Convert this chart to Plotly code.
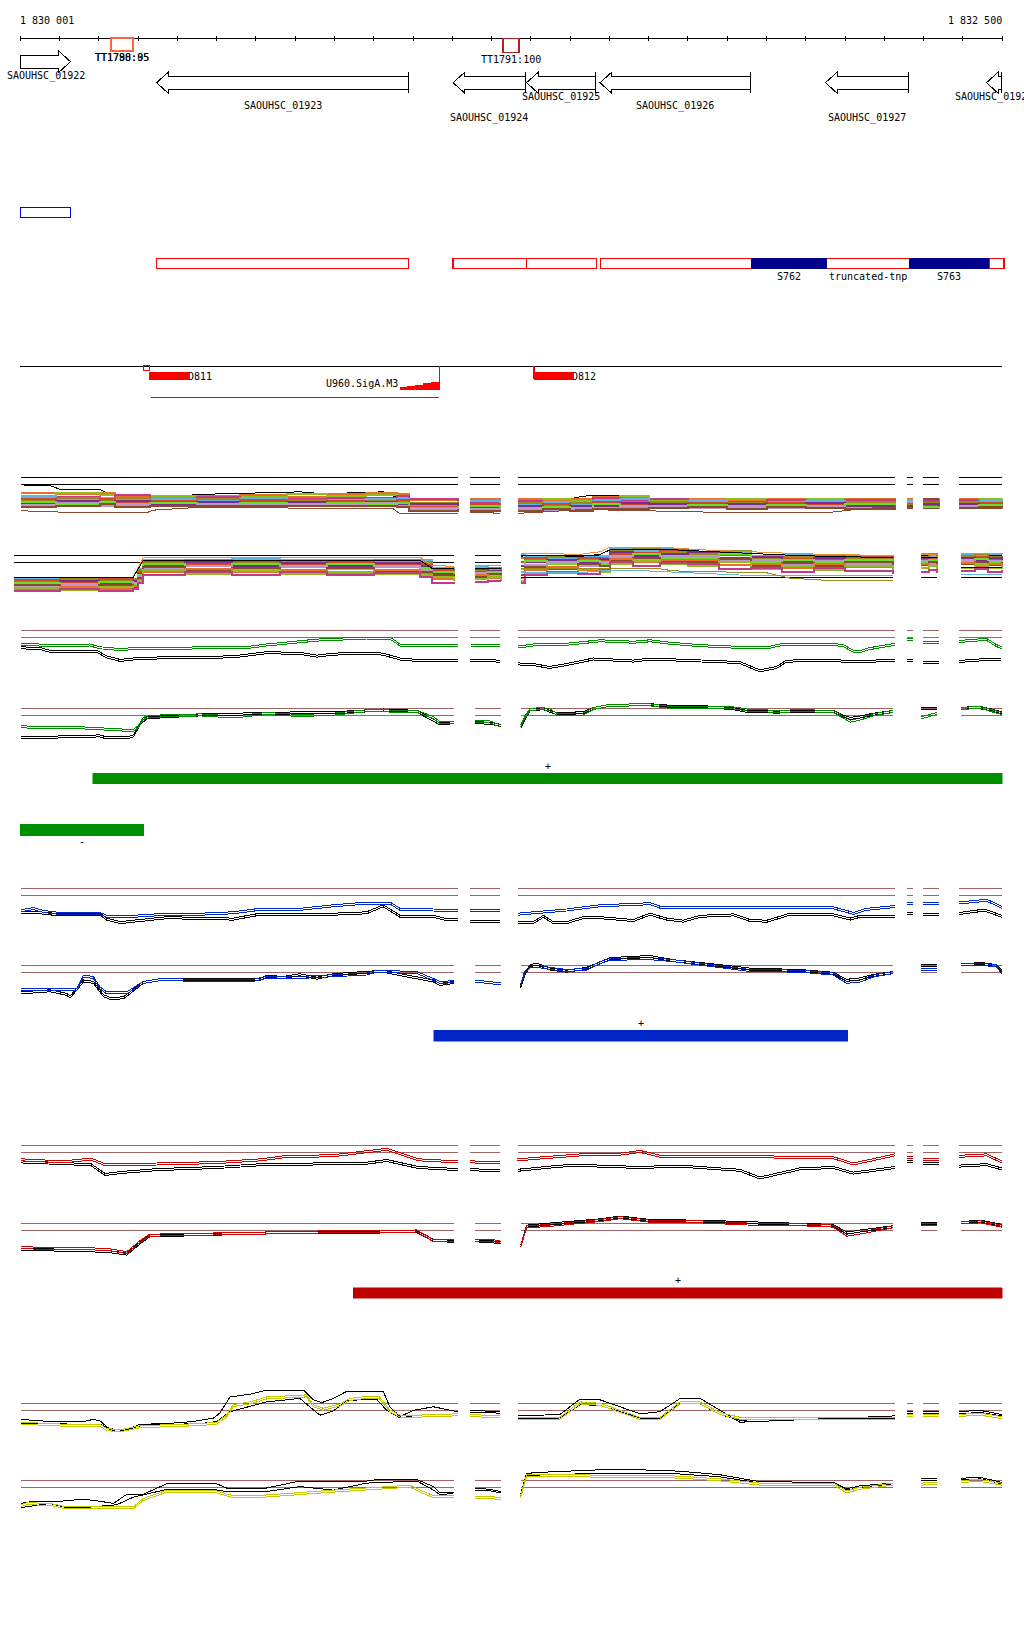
import plotly.graph_objects as go

W, H = 1024, 1640
POS0 = 1830000                      # genomic origin (bp)
BP_PER_PX = 1 / 0.39275
X_LEFT = POS0 - 20.3 * BP_PER_PX
X_RIGHT = X_LEFT + W * BP_PER_PX

# ------------------------------------------------------------------ data
RULER_LABELS = ["1 830 001", "1 832 500"]
RULER_FROM, RULER_TO = 1, 2500

GENE_NAMES = ["SAOUHSC_01922", "SAOUHSC_01923", "SAOUHSC_01924", "SAOUHSC_01925",
              "SAOUHSC_01926", "SAOUHSC_01927", "SAOUHSC_01928"]
GENE_START = [1, 347, 1102, 1289, 1476, 2050, 2460]
GENE_END = [128, 989, 1287, 1465, 1860, 2262, 2499]
GENE_STRAND = ["+", "-", "-", "-", "-", "-", "-"]

TERM_NAMES = ["TT1790:95", "TT1788:05", "TT1791:100"]
TERM_START = [230, 230, 1229]
TERM_END = [288, 288, 1270]

BLUE_BOX = [(0, 128)]
RED_BOXES = [(347, 989), (1102, 1289), (1289, 1467), (1477, 1862), (2053, 2265), (2466, 2504)]
NAVY_NAMES = ["S762", "S763"]
NAVY_START = [1862, 2265]
NAVY_END = [2053, 2466]
TNP_NAME, TNP_START, TNP_END = "truncated-tnp", 2053, 2265

FEAT_NAMES = ["D811", "D812"]
FEAT_START = [330, 1308]
FEAT_END = [429, 1407]
PROMOTER_NAME, PROMOTER_START, PROMOTER_END = "U960.SigA.M3", 332, 1067
PROMOTER_RAMP = 967

GREEN_PLUS = (185, 2500)
GREEN_MINUS = (0, 314)
BLUE_PLUS = (1053, 2107)
RED_PLUS = (848, 2500)

SEG_A = [(1, 1114), (1145, 1221), (1266, 2227), (2257, 2273), (2298, 2338), (2390, 2499)]
SEG_B = [(1, 1104), (1157, 1223), (1274, 2222), (2294, 2334), (2395, 2499)]
SEG_MB = [(-15, 1104), (1157, 1223), (1274, 2222), (2294, 2334), (2395, 2499)]

# ---- multi-condition panel A
MA_X = [[1, 90, 203, 240, 330, 450, 560, 680, 780, 880, 960, 990, 1114], [1145, 1221],
        [1266, 1330, 1400, 1459, 1527, 1600, 1700, 1800, 1900, 2000, 2100, 2227],
        [2257, 2273], [2298, 2338], [2390, 2440, 2499]]
MA_TOP_X = [[1, 76, 101, 203, 228, 416, 458, 585, 712, 772, 924, 967, 1114], [1145, 1221],
            [1266, 1391, 1425, 1459, 1527, 1578, 2227], [2257, 2273], [2298, 2338], [2390, 2499]]
MA_TOP_V = [[-1.1, -1.2, -1.8, -1.8, -2.7, -2.8, -2.6, -2.4, -2.2, -2.5, -2.2, -3.3, -3.2], [-3.4, -3.4],
            [-3.4, -3.4, -3.0, -2.7, -2.8, -3.3, -3.3], [-3.3, -3.3], [-3.3, -3.3], [-3.3, -3.3]]
MA_BOT_X = [[1, 93, 144, 322, 339, 458, 797, 950, 967, 1114], [1145, 1221],
            [1266, 1306, 1434, 1519, 1816, 2070, 2155, 2227], [2257, 2273], [2298, 2338], [2390, 2499]]
MA_BOT_V = [[-5.2, -5.4, -5.5, -5.5, -5.1, -4.65, -4.8, -4.9, -5.7, -5.7], [-5.4, -5.6],
            [-5.6, -5.5, -5.0, -5.1, -5.5, -5.4, -4.8, -4.6], [-4.6, -4.6], [-4.9, -4.9], [-4.8, -4.9]]
MA_BAND = [
    [[-2.4, -2.6, -2.4, -2.9, -3.1, -2.8, -2.7, -3.0, -2.6, -2.4, -2.6, -3.5, -3.4], [-3.4, -3.5],
     [-3.4, -3.6, -3.3, -3.0, -3.1, -3.4, -3.3, -3.6, -3.3, -3.5, -3.3, -3.4], [-3.3, -3.3], [-3.4, -3.6], [-3.3, -3.5, -3.4]],
    [[-2.8, -2.4, -2.7, -3.3, -2.8, -3.2, -3.0, -2.6, -2.9, -2.7, -3.0, -3.9, -3.7], [-3.8, -3.6],
     [-3.8, -3.4, -3.7, -3.4, -2.9, -3.7, -3.5, -3.3, -3.7, -3.3, -3.6, -3.6], [-3.6, -3.6], [-3.8, -3.4], [-3.7, -3.3, -3.7]],
    [[-3.2, -3.0, -3.3, -2.7, -3.5, -3.0, -3.4, -3.3, -3.2, -3.1, -2.8, -3.3, -4.1], [-4.0, -4.2],
     [-3.6, -4.0, -3.9, -3.2, -3.5, -3.3, -3.9, -3.8, -3.5, -3.8, -3.5, -3.9], [-3.9, -3.9], [-3.6, -4.0], [-3.5, -3.9, -3.6]],
    [[-3.0, -3.4, -3.1, -3.6, -3.3, -3.6, -3.2, -3.7, -3.5, -3.4, -3.4, -4.3, -3.6], [-3.6, -3.9],
     [-4.2, -3.8, -4.2, -3.7, -3.3, -4.0, -3.7, -4.1, -3.9, -3.6, -4.0, -3.7], [-3.5, -3.5], [-4.1, -3.8], [-4.0, -3.7, -4.0]],
    [[-3.6, -3.2, -3.6, -3.2, -3.8, -3.4, -3.8, -3.5, -3.9, -3.6, -3.7, -4.0, -4.4], [-4.4, -4.1],
     [-4.0, -4.4, -4.0, -4.0, -3.8, -3.8, -4.2, -3.9, -4.2, -4.1, -3.8, -4.2], [-4.2, -4.2], [-3.9, -4.3], [-3.8, -4.2, -3.9]],
    [[-3.4, -3.8, -3.4, -3.9, -3.6, -4.0, -3.6, -4.0, -3.7, -3.9, -3.5, -4.6, -4.0], [-4.1, -4.5],
     [-4.6, -4.2, -4.6, -3.8, -4.2, -4.3, -4.0, -4.4, -4.0, -4.3, -4.3, -4.0], [-4.0, -4.0], [-4.4, -4.1], [-4.3, -4.0, -4.3]],
    [[-4.0, -3.6, -4.0, -3.7, -4.2, -3.8, -4.1, -3.8, -4.1, -3.8, -4.1, -4.2, -4.8], [-4.7, -4.3],
     [-4.4, -4.8, -4.4, -4.4, -4.0, -4.1, -4.5, -4.2, -4.5, -4.0, -4.5, -4.5], [-4.4, -4.4], [-4.2, -4.5], [-4.1, -4.5, -4.2]],
    [[-3.8, -4.2, -3.8, -4.3, -3.9, -4.3, -3.9, -4.3, -3.9, -4.2, -3.9, -4.8, -4.5], [-4.5, -4.8],
     [-5.0, -4.6, -4.8, -4.2, -4.6, -4.6, -4.3, -4.7, -4.3, -4.6, -4.1, -4.3], [-4.6, -4.6], [-4.6, -4.4], [-4.6, -4.3, -4.6]],
    [[-4.3, -4.0, -4.4, -4.1, -4.5, -4.1, -4.3, -4.1, -4.3, -4.0, -4.4, -5.0, -5.1], [-5.0, -4.7],
     [-4.8, -5.1, -5.0, -4.7, -4.4, -4.4, -4.8, -4.5, -4.8, -4.4, -4.7, -4.7], [-3.8, -3.8], [-4.8, -4.7], [-4.4, -4.7, -4.5]],
    [[-4.6, -4.5, -4.2, -4.6, -4.4, -4.5, -4.5, -4.4, -4.5, -4.4, -4.6, -5.2, -4.9], [-5.2, -5.1],
     [-5.2, -4.9, -5.2, -4.9, -4.9, -4.8, -4.6, -4.9, -4.6, -4.8, -4.9, -4.5], [-4.7, -4.7], [-3.3, -3.3], [-4.8, -4.6, -4.8]],
]

# ---- multi-condition panel B
MB_X = [[-15, 100, 200, 287, 300, 313, 420, 540, 660, 780, 900, 1018, 1048, 1104], [1157, 1190, 1223],
        [1274, 1284, 1340, 1420, 1476, 1502, 1560, 1629, 1700, 1780, 1860, 1940, 2020, 2100, 2222],
        [2294, 2314, 2334], [2395, 2430, 2465, 2499]]
MB_ENV_X = [[-15, 287, 313, 712, 1018, 1048, 1104], [1157, 1223],
            [1274, 1284, 1425, 1476, 1502, 1629, 1731, 1985, 2222], [2294, 2334], [2395, 2499]]
MB_TOP_V = [[-3.3, -3.3, -0.3, -0.2, -0.2, -1.5, -1.6], [-1.5, -1.5],
            [0.3, 0.4, 0.2, 0.6, 1.3, 1.3, 0.9, 0.3, 0.0], [0.2, 0.2], [0.3, 0.3]]
MB_BLK_V = [[-3.3, -3.3, -0.7, -0.7, -0.7, -1.9, -2.0], [-1.9, -1.9],
            [-0.2, 0.1, -0.1, 0.2, 0.9, 1.0, 0.7, 0.0, -0.3], [-0.3, -0.3], [-1.8, -1.8]]
MB_FLAT_X = [[1274, 2222], [2294, 2334], [2395, 2499]]
MB_FLAT_V = [[-3.3, -3.3], [-3.3, -3.3], [-3.3, -3.3]]
MB_LOW_X = [[1274, 1629, 1663, 1901, 1960, 2070, 2222]]
MB_LOW_V = [[-2.0, -2.0, -2.3, -2.6, -3.4, -3.8, -3.7]]
MB_SKY_X = [[1274, 1420, 1476, 1560, 1629, 1700, 1780, 1860, 2222], [2395, 2499]]
MB_SKY_V = [[-2.6, -2.6, -2.3, -2.2, -2.4, -2.6, -2.8, -3.0, -3.0], [-2.9, -2.9]]
MB_BAND = [
    [[-3.5, -3.7, -3.4, -3.6, -2.0, -0.6, -0.8, -0.5, -0.7, -0.6, -0.9, -0.6, -1.9, -2.0], [-1.7, -2.0, -1.8],
     [0.3, -0.2, -0.4, -0.2, 0.0, 1.1, 0.7, 1.0, 0.6, 0.4, 0.0, 0.1, -0.2, 0.0, -0.1], [0.2, 0.0, 0.2], [0.3, 0.1, 0.3, 0.2]],
    [[-3.9, -3.5, -3.8, -3.5, -2.2, -1.0, -0.6, -1.0, -0.8, -1.1, -0.6, -0.9, -2.3, -2.2], [-2.1, -1.8, -2.2],
     [-0.4, -0.6, -0.2, -0.6, -0.4, 0.7, 1.0, 0.6, 0.3, 0.7, -0.3, -0.2, 0.1, -0.4, -0.3], [-0.2, 0.3, -0.3], [-0.1, 0.3, -0.2, 0.0]],
    [[-3.7, -4.1, -3.6, -4.0, -2.4, -0.8, -1.2, -0.8, -1.3, -0.9, -1.3, -1.2, -2.1, -2.6], [-2.4, -2.6, -2.0],
     [-1.0, -0.4, -0.9, -0.4, -0.8, 0.3, 0.4, 0.8, 0.0, 0.1, -0.6, -0.5, -0.5, -0.2, -0.6], [-0.6, -0.4, -0.7], [-0.5, -0.2, -0.6, -0.3]],
    [[-4.3, -3.9, -4.2, -3.8, -2.7, -1.4, -1.0, -1.5, -1.1, -1.5, -1.1, -1.5, -2.7, -2.4], [-2.0, -2.3, -2.6],
     [-1.5, -1.0, -0.6, -1.1, -0.5, 0.5, 0.0, 0.2, 0.5, -0.3, -0.2, -0.9, -0.3, -0.8, -0.9], [-0.4, -0.8, -0.5], [-0.3, -0.7, -0.4, -0.7]],
    [[-4.1, -4.5, -4.0, -4.4, -2.9, -1.2, -1.6, -1.3, -1.7, -1.3, -1.7, -1.8, -2.5, -3.0], [-2.8, -2.5, -2.9],
     [-2.0, -0.8, -1.3, -0.8, -1.2, -0.2, 0.2, -0.3, -0.4, 0.2, -1.0, -0.6, -1.0, -0.6, -1.2], [-1.0, -0.7, -1.1], [-0.9, -0.5, -1.0, -0.6]],
    [[-4.7, -4.3, -4.6, -4.2, -3.2, -1.9, -1.5, -2.0, -1.6, -2.0, -1.6, -2.1, -3.1, -2.8], [-2.6, -3.0, -2.5],
     [-2.5, -1.4, -1.0, -1.5, -1.0, 0.0, -0.5, -0.1, -0.1, -0.8, -0.7, -1.3, -0.8, -1.2, -1.5], [-0.8, -1.2, -0.9], [-0.7, -1.1, -0.8, -1.1]],
    [[-4.5, -4.9, -4.4, -4.8, -3.4, -1.7, -2.1, -1.8, -2.2, -1.8, -2.3, -2.4, -2.9, -3.4], [-3.2, -2.8, -3.2],
     [-3.0, -1.7, -2.0, -1.3, -1.6, -0.7, -0.3, -0.8, -0.9, -0.5, -1.5, -1.1, -1.5, -1.0, -1.8], [-1.4, -1.0, -1.5], [-1.3, -0.9, -1.4, -1.0]],
    [[-5.1, -4.7, -5.0, -4.6, -3.7, -2.4, -2.0, -2.5, -2.1, -2.6, -2.1, -2.7, -3.6, -3.2], [-3.0, -3.4, -3.0],
     [-3.4, -2.2, -1.7, -2.2, -2.0, -0.5, -1.0, -0.6, -0.6, -1.4, -1.2, -1.8, -1.3, -1.7, -2.1], [-1.2, -1.6, -1.3], [-1.1, -1.5, -1.2, -1.5]],
    [[-4.9, -5.2, -4.8, -5.1, -3.9, -2.2, -2.7, -2.3, -2.8, -2.4, -2.8, -3.0, -3.3, -3.9], [-3.6, -3.2, -3.7],
     [-3.8, -2.6, -2.6, -2.0, -2.5, -1.2, -0.8, -1.3, -1.5, -1.0, -2.0, -1.6, -2.2, -1.5, -2.4], [-1.9, -1.5, -2.0], [-1.8, -1.4, -1.9, -1.6]],
    [[-5.3, -5.1, -5.3, -5.0, -4.1, -3.0, -2.5, -2.9, -2.5, -3.0, -2.6, -3.3, -4.1, -4.3], [-4.0, -3.8, -3.9],
     [-4.2, -3.0, -2.4, -2.8, -2.2, -1.0, -1.5, -1.1, -1.2, -2.0, -1.8, -2.4, -1.9, -2.3, -2.7], [-2.4, -2.2, -2.6], [-2.3, -2.0, -2.4, -2.2]],
]

# ---- green condition
GA_GREEN_X = [[1, 93, 177, 203, 245, 372, 458, 585, 627, 712, 755, 882, 941, 967, 1114], [1145, 1221],
              [1266, 1289, 1306, 1391, 1476, 1561, 1603, 1646, 1731, 1816, 1901, 1943, 2070, 2096, 2121, 2138, 2155, 2227],
              [2257, 2273], [2298, 2338], [2390, 2443, 2460, 2486, 2499]]
GA_GREEN_V = [[-1.9, -2.1, -2.0, -2.4, -2.6, -2.5, -2.4, -2.3, -2.0, -1.6, -1.3, -1.0, -1.0, -2.0, -2.0], [-2.0, -2.1],
              [-2.3, -2.1, -2.0, -1.9, -1.4, -1.6, -1.4, -1.7, -2.1, -2.3, -2.4, -1.9, -1.9, -2.1, -2.9, -3.0, -2.6, -1.9],
              [-1.2, -1.2], [-1.6, -1.6], [-1.5, -1.3, -1.2, -2.1, -2.4]]
GA_BLACK_X = [[1, 50, 76, 198, 220, 254, 288, 372, 542, 610, 627, 712, 755, 797, 882, 923, 967, 1010, 1114], [1145, 1221],
              [1266, 1306, 1348, 1391, 1459, 1561, 1603, 1731, 1832, 1883, 1926, 1951, 2070, 2113, 2227],
              [2257, 2273], [2298, 2338], [2390, 2419, 2499]]
GA_BLACK_V = [[-2.4, -2.5, -2.9, -3.0, -3.7, -4.2, -4.0, -3.8, -3.7, -3.3, -3.1, -3.2, -3.6, -3.3, -3.2, -3.3, -4.0, -4.2, -4.2], [-4.2, -4.3],
              [-4.7, -4.8, -5.2, -4.8, -4.0, -4.3, -4.0, -4.3, -4.5, -5.7, -5.2, -4.3, -4.2, -4.4, -4.2],
              [-4.2, -4.2], [-4.5, -4.5], [-4.4, -4.2, -4.0]]
GB_S3 = [1274, 1286, 1298, 1332, 1349, 1366, 1433, 1459, 1493, 1595, 1663, 1731, 1816, 1850, 1926, 1985, 2070, 2096, 2113, 2138, 2172, 2222]
GB_GREEN_X = [[1, 59, 203, 220, 288, 300, 313, 330, 458, 542, 627, 712, 797, 882, 1010, 1052, 1069, 1104], [1157, 1196, 1223],
              GB_S3, [2294, 2334], [2395, 2421, 2446, 2466, 2499]]
GB_GREEN_V = [[-2.5, -2.6, -2.7, -2.9, -3.0, -2.5, -1.3, -1.0, -0.8, -1.1, -0.6, -0.9, -0.7, -0.2, -0.3, -1.2, -1.9, -1.9], [-1.8, -1.8, -2.4],
              [-2.4, -1.0, 0.0, 0.1, -0.1, -0.7, -0.7, 0.1, 0.5, 0.7, 0.2, 0.3, 0.2, -0.1, -0.3, -0.2, -0.3, -1.2, -1.7, -1.4, -0.8, -0.3],
              [-1.2, -0.6], [0.1, 0.2, 0.3, -0.1, -0.6]]
GB_BLACK_X = [[1, 118, 203, 220, 271, 288, 305, 322, 458, 712, 797, 924, 1010, 1069, 1104], [1157, 1196, 1223],
              GB_S3, [2294, 2334], [2395, 2434, 2466, 2499]]
GB_BLACK_V = [[-4.1, -3.9, -3.8, -4.1, -4.1, -3.8, -2.1, -1.2, -0.8, -0.5, -0.5, -0.1, -0.3, -2.1, -1.9], [-1.9, -2.0, -2.3],
              [-2.6, -1.2, -0.1, 0.1, -0.3, -0.6, -0.5, 0.1, 0.5, 0.7, 0.4, 0.4, 0.1, -0.3, -0.4, -0.3, -0.3, -1.0, -1.3, -1.1, -0.7, -0.3],
              [0.1, 0.1], [0.1, 0.3, 0.0, -0.5]]

# ---- blue condition
BA_BLUE_X = [[1, 33, 59, 101, 203, 220, 288, 373, 458, 542, 610, 712, 797, 882, 941, 967, 1052, 1114], [1145, 1221],
             [1266, 1391, 1476, 1603, 1629, 1731, 1901, 2070, 2104, 2121, 2155, 2227],
             [2257, 2273], [2298, 2338], [2390, 2443, 2460, 2499]]
BA_BLUE_V = [[-3.1, -2.8, -3.2, -3.5, -3.5, -3.9, -3.9, -3.6, -3.6, -3.4, -2.9, -2.9, -2.4, -2.0, -2.0, -2.9, -3.0, -3.1], [-3.1, -3.1],
             [-3.6, -3.0, -2.4, -2.1, -2.6, -2.6, -2.7, -2.7, -3.2, -3.5, -2.9, -2.5],
             [-2.0, -2.0], [-2.0, -2.0], [-2.0, -1.7, -1.6, -2.6]]
BA_BLACK_X = [[1, 50, 84, 203, 220, 254, 373, 458, 542, 610, 712, 797, 882, 924, 967, 1052, 1086, 1114], [1145, 1221],
              [1266, 1306, 1332, 1357, 1391, 1433, 1476, 1561, 1603, 1646, 1688, 1731, 1816, 1858, 1901, 1960, 2070, 2113, 2138, 2227],
              [2257, 2273], [2298, 2338], [2390, 2443, 2460, 2499]]
BA_BLACK_V = [[-3.4, -3.4, -3.6, -3.6, -4.3, -4.8, -4.1, -4.2, -4.3, -3.6, -3.6, -3.6, -3.4, -2.4, -3.9, -3.9, -4.4, -4.4], [-4.6, -4.6],
              [-4.8, -4.8, -3.9, -4.8, -4.8, -4.1, -4.1, -4.5, -3.6, -4.3, -4.6, -3.9, -3.7, -4.5, -4.6, -3.6, -3.7, -4.3, -3.9, -3.9],
              [-3.5, -3.5], [-3.6, -3.6], [-3.5, -3.1, -3.1, -3.9]]
BB_S3 = [1274, 1284, 1298, 1315, 1349, 1391, 1442, 1476, 1502, 1603, 1663, 1781, 1858, 1985, 2070, 2104, 2138, 2172, 2222]
BB_BLUE_X = [[1, 50, 144, 161, 186, 203, 220, 271, 313, 356, 458, 593, 627, 712, 797, 882, 907, 1010, 1052, 1069, 1104],
             [1157, 1196, 1223], BB_S3, [2294, 2334], [2395, 2434, 2485, 2499]]
BB_BLUE_V = [[-3.3, -3.3, -3.3, -1.4, -1.6, -3.1, -3.8, -3.8, -2.3, -1.9, -2.0, -2.0, -1.6, -1.6, -1.4, -1.1, -0.7, -0.9, -1.9, -2.3, -2.2],
             [-2.1, -2.3, -2.5],
             [-2.7, -0.9, -0.1, 0.0, -0.3, -0.6, -0.4, 0.5, 1.0, 1.1, 0.8, 0.0, -0.6, -0.7, -1.1, -2.3, -2.1, -1.4, -0.9],
             [-0.4, -0.4], [0.2, 0.3, 0.1, -0.9]]
BB_BLACK_X = [[1, 76, 118, 127, 161, 186, 212, 229, 263, 313, 356, 610, 627, 669, 712, 755, 797, 924, 967, 1052, 1069, 1104],
              [1157, 1196, 1223], BB_S3, [2294, 2334], [2395, 2446, 2485, 2499]]
BB_BLACK_V = [[-3.8, -3.5, -4.0, -4.4, -2.1, -2.3, -4.2, -4.6, -4.5, -2.3, -1.9, -1.9, -1.4, -1.6, -1.2, -1.7, -1.2, -0.7, -1.2, -2.1, -2.6, -2.3],
              [-2.1, -2.3, -2.5],
              [-2.9, -1.2, 0.1, 0.3, -0.4, -0.7, -0.3, 0.5, 1.1, 1.4, 0.8, 0.1, -0.4, -0.6, -1.0, -2.0, -1.8, -1.3, -0.9],
              [0.1, 0.1], [0.2, 0.4, 0.1, -0.6]]

# ---- red condition
RA_RED_X = [[1, 109, 180, 216, 348, 500, 614, 666, 800, 880, 933, 960, 1013, 1114], [1145, 1221],
            [1266, 1330, 1425, 1527, 1578, 1629, 1731, 1850, 1985, 2070, 2121, 2227], [2257, 2273], [2298, 2338], [2390, 2460, 2499]]
RA_RED_V = [[-1.9, -2.2, -1.8, -2.6, -2.5, -2.3, -1.9, -1.5, -1.3, -0.7, -0.4, -0.9, -1.9, -2.2], [-2.2, -2.3],
            [-1.9, -1.6, -1.2, -1.1, -0.7, -1.4, -1.5, -1.4, -1.6, -1.6, -2.5, -1.2], [-1.5, -1.5], [-1.9, -1.9], [-1.4, -1.2, -2.2]]
RA_BLACK_X = [[1, 180, 216, 260, 348, 500, 614, 750, 880, 933, 1013, 1114], [1145, 1221],
              [1266, 1374, 1425, 1578, 1680, 1832, 1883, 1985, 2070, 2121, 2227], [2257, 2273], [2298, 2338], [2390, 2460, 2499]]
RA_BLACK_V = [[-2.2, -2.6, -4.0, -3.7, -3.3, -3.0, -2.6, -2.5, -2.4, -2.0, -3.0, -3.3], [-3.3, -3.5],
              [-3.4, -2.8, -2.7, -3.0, -2.8, -3.4, -4.5, -3.2, -3.0, -3.8, -3.0], [-2.2, -2.2], [-2.4, -2.4], [-2.8, -2.6, -3.2]]
RB_S3 = [1274, 1289, 1349, 1476, 1527, 1603, 1731, 1850, 1985, 2070, 2104, 2138, 2222]
RB_RED_X = [[1, 220, 271, 305, 330, 600, 800, 1010, 1052, 1104], [1157, 1196, 1223], RB_S3, [2294, 2334], [2395, 2446, 2499]]
RB_RED_V = [[-3.4, -3.6, -4.1, -2.5, -1.6, -1.3, -1.1, -1.0, -2.4, -2.4], [-2.3, -2.3, -2.6],
            [-3.2, -0.4, -0.2, 0.5, 0.9, 0.4, 0.3, 0.0, -0.1, -0.3, -1.6, -1.3, -0.4], [0.0, 0.0], [0.2, 0.3, -0.3]]
RB_BLACK_X = RB_RED_X
RB_BLACK_V = [[-3.6, -3.9, -4.3, -2.7, -1.7, -1.3, -1.2, -1.1, -2.3, -2.5], [-2.4, -2.5, -2.7],
              [-3.2, -0.3, 0.0, 0.6, 1.0, 0.5, 0.4, 0.2, 0.0, -0.2, -1.3, -1.0, -0.4], [0.1, 0.1], [0.2, 0.4, -0.2]]

# ---- yellow condition
YA_S3 = [1266, 1374, 1425, 1476, 1527, 1578, 1629, 1680, 1731, 1781, 1832, 2227]
YA_YEL_X = [[1, 118, 203, 220, 254, 305, 458, 500, 525, 542, 585, 627, 729, 746, 771, 814, 839, 882, 915, 941, 967, 1010, 1114],
            [1145, 1221], YA_S3, [2257, 2273], [2298, 2338], [2390, 2443, 2499]]
YA_YEL_V = [[-2.7, -3.0, -3.0, -3.6, -3.8, -3.2, -2.9, -2.7, -1.7, -0.2, 0.2, 0.9, 1.2, -0.2, -0.7, -0.1, 0.7, 1.0, 0.9, -0.95, -1.7, -1.7, -1.5],
            [-1.6, -1.8], [-2.0, -2.0, 0.2, 0.0, -1.0, -2.0, -2.0, 0.2, 0.2, -1.3, -2.0, -2.0],
            [-1.6, -1.6], [-1.6, -1.6], [-1.6, -1.4, -1.9]]
YA_BLK1_X = [[1, 76, 161, 186, 203, 229, 254, 305, 373, 441, 492, 508, 534, 585, 627, 721, 746, 768, 797, 831, 924, 941, 967, 1001, 1052, 1114],
             [1145, 1221], YA_S3, [2257, 2273], [2298, 2338], [2390, 2443, 2499]]
YA_BLK1_V = [[-2.3, -2.6, -2.6, -2.3, -2.5, -3.8, -4.1, -3.0, -2.9, -2.6, -2.1, -1.4, 0.9, 1.3, 1.9, 1.9, 0.5, 0.1, 0.7, 1.7, 1.7, -0.5, -1.9, -1.0, -0.5, -1.2],
             [-1.0, -1.2], [-1.8, -1.6, 0.6, 0.5, -0.5, -1.5, -1.2, 0.7, 0.7, -1.0, -2.7, -1.8],
             [-1.2, -1.2], [-1.2, -1.2], [-1.2, -1.0, -1.6]]
YA_BLK2_X = [[1, 203, 229, 263, 313, 458, 500, 534, 627, 712, 737, 763, 797, 831, 907, 932, 967, 1010, 1114],
             [1145, 1221], YA_S3, [2257, 2273], [2298, 2338], [2390, 2443, 2499]]
YA_BLK2_V = [[-2.9, -3.0, -3.6, -3.9, -3.1, -2.9, -2.6, -1.2, 0.2, 0.7, -0.5, -1.7, -1.1, 0.4, 0.6, -0.95, -2.1, -1.7, -1.5],
             [-1.3, -1.4], [-2.2, -2.1, -0.2, -0.3, -1.2, -2.1, -2.2, 0.0, -0.1, -1.6, -2.4, -2.1],
             [-1.4, -1.4], [-1.5, -1.5], [-1.5, -1.3, -1.8]]
YB_S3 = [1274, 1289, 1349, 1476, 1578, 1680, 1781, 1883, 2070, 2104, 2138, 2222]
YB_YEL_X = [[1, 17, 76, 118, 161, 203, 288, 313, 373, 492, 542, 627, 797, 924, 992, 1018, 1052, 1104],
            [1157, 1196, 1223], YB_S3, [2294, 2334], [2395, 2446, 2499]]
YB_YEL_V = [[-3.5, -3.2, -3.3, -3.8, -3.7, -3.8, -3.8, -2.6, -1.4, -1.4, -2.2, -2.1, -1.4, -0.9, -0.7, -1.4, -2.2, -2.2],
            [-2.3, -2.3, -2.5], [-2.2, 0.8, 0.8, 0.8, 0.7, 0.6, 0.2, -0.4, -0.4, -1.5, -1.0, -0.4],
            [-0.4, -0.3], [0.0, 0.1, -0.4]]
YB_BLK1_X = [[1, 33, 101, 161, 203, 237, 271, 313, 373, 500, 525, 627, 712, 882, 907, 1010, 1052, 1069, 1104],
             [1157, 1196, 1223], YB_S3, [2294, 2334], [2395, 2446, 2499]]
YB_BLK1_V = [[-3.3, -3.0, -3.0, -2.7, -3.0, -3.3, -2.0, -2.0, -0.5, -0.5, -1.1, -1.1, -0.1, -0.1, 0.1, 0.1, -0.9, -1.8, -1.8],
             [-1.1, -1.3, -1.6], [-2.0, 1.0, 1.2, 1.5, 1.5, 1.3, 0.8, -0.2, -0.3, -1.2, -0.8, -0.4],
             [0.2, 0.2], [0.3, 0.4, -0.3]]
YB_BLK2_X = [[1, 76, 118, 161, 245, 288, 373, 492, 525, 627, 712, 797, 882, 1010, 1052, 1069, 1104],
             [1157, 1196, 1223], YB_S3, [2294, 2334], [2395, 2446, 2499]]
YB_BLK2_V = [[-3.9, -3.3, -3.9, -3.9, -3.5, -2.4, -1.3, -1.3, -1.6, -1.6, -0.9, -1.4, -0.4, -0.1, -1.4, -2.1, -1.8],
             [-1.4, -1.5, -1.8], [-2.3, 0.7, 0.8, 1.0, 1.0, 0.9, 0.5, -0.4, -0.4, -1.4, -1.0, -0.5],
             [0.0, 0.0], [0.1, 0.2, -0.5]]

REF_LEVELS = [0, -1]

# ------------------------------------------------------------------ style
FONT = dict(family="DejaVu Sans Mono", size=10, color="black")
GREEN, BLUE, RED, YELLOW = "#008A00", "#0028C8", "#CC0000", "#C4C800"
REF_BROWN = "#A06464"
NAVY = "#00008B"
MULTI_COLORS = ["#E8702A", "#8FBF1F", "#C23B8A", "#5EB3E4", "#9A8A1A",
                "#D2462D", "#7B2D8E", "#66E020", "#B89AC8", "#8B4A2B"]

fig = go.Figure()
layout_axes = {}
axis_counter = [1]


def new_axis(p8, unit, shift=0.0):
    axis_counter[0] += 1
    k = axis_counter[0]
    top = p8 - 4 * unit + shift
    bot = p8 + 9 * unit + shift
    layout_axes[f"yaxis{k}"] = dict(domain=[1 - bot / H, 1 - top / H], range=[-9, 4],
                                     visible=False, fixedrange=True, anchor="x")
    return f"y{k}"


def add_series(axis, xsegs, vsegs, color, width, shape="linear"):
    xs, ys = [], []
    assert len(xsegs) == len(vsegs)
    for xseg, vseg in zip(xsegs, vsegs):
        assert len(xseg) == len(vseg), (xseg, vseg)
        xs += [POS0 + x for x in xseg] + [None]
        ys += list(vseg) + [None]
    fig.add_trace(go.Scatter(x=xs, y=ys, mode="lines", yaxis=axis, xaxis="x",
                             line=dict(color=color, width=width, shape=shape), hoverinfo="skip",
                             showlegend=False, connectgaps=False))


def add_panel(p8, unit, segs, refcolor, series, dup_px=2.0):
    ax = new_axis(p8, unit)
    axd = new_axis(p8, unit, dup_px)
    for lvl in REF_LEVELS:
        add_series(ax, [[s, e] for s, e in segs], [[lvl, lvl] for _ in segs], refcolor, 1)
    for color, xs, vs, width, dup, shape in series:
        add_series(ax, xs, vs, color, width, shape)
        if dup:
            add_series(axd, xs, vs, color, width, shape)


# multi panels
ma_series = [("#000000", MA_TOP_X, MA_TOP_V, 1, False, "linear")]
for i, band in enumerate(MA_BAND):
    ma_series.append((MULTI_COLORS[i % len(MULTI_COLORS)], MA_X, band, 2, False, "hv"))
ma_series.append(("#8B4A2B", MA_BOT_X, MA_BOT_V, 1, False, "linear"))
add_panel(478, 6.3, SEG_A, "#000000", ma_series)

mb_series = []
for i, band in enumerate(MB_BAND):
    mb_series.append((MULTI_COLORS[(i + 3) % len(MULTI_COLORS)], MB_X, band, 2, False, "hv"))
mb_series += [("#5EB3E4", MB_SKY_X, MB_SKY_V, 1, False, "linear"),
              ("#E8902A", MB_ENV_X, MB_TOP_V, 1, False, "linear"),
              ("#000000", MB_ENV_X, MB_BLK_V, 1, False, "linear"),
              ("#000000", MB_FLAT_X, MB_FLAT_V, 1.5, False, "linear"),
              ("#9A8A1A", MB_LOW_X, MB_LOW_V, 1, False, "linear")]
add_panel(555.7, 6.6, SEG_MB, "#000000", mb_series)

add_panel(630, 7, SEG_A, REF_BROWN, [("#000000", GA_BLACK_X, GA_BLACK_V, 1, True, "linear"),
                                      (GREEN, GA_GREEN_X, GA_GREEN_V, 1, True, "linear")])
add_panel(708.3, 7, SEG_B, REF_BROWN, [("#000000", GB_BLACK_X, GB_BLACK_V, 1, True, "linear"),
                                        (GREEN, GB_GREEN_X, GB_GREEN_V, 1, True, "linear")])
add_panel(888, 7, SEG_A, REF_BROWN, [("#000000", BA_BLACK_X, BA_BLACK_V, 1, True, "linear"),
                                      (BLUE, BA_BLUE_X, BA_BLUE_V, 1, True, "linear")])
add_panel(965.3, 7, SEG_B, REF_BROWN, [("#000000", BB_BLACK_X, BB_BLACK_V, 1, True, "linear"),
                                        (BLUE, BB_BLUE_X, BB_BLUE_V, 1, True, "linear")])
add_panel(1145.5, 7, SEG_A, REF_BROWN, [("#000000", RA_BLACK_X, RA_BLACK_V, 1, True, "linear"),
                                         (RED, RA_RED_X, RA_RED_V, 1, True, "linear")])
add_panel(1223, 7, SEG_B, REF_BROWN, [("#000000", RB_BLACK_X, RB_BLACK_V, 1, True, "linear"),
                                       (RED, RB_RED_X, RB_RED_V, 1, True, "linear")])
add_panel(1403.3, 7, SEG_A, REF_BROWN, [("#000000", YA_BLK1_X, YA_BLK1_V, 1, False, "linear"),
                                         ("#000000", YA_BLK2_X, YA_BLK2_V, 1, False, "linear"),
                                         (YELLOW, YA_YEL_X, YA_YEL_V, 1, True, "linear")])
add_panel(1480.3, 7, SEG_B, REF_BROWN, [("#000000", YB_BLK1_X, YB_BLK1_V, 1, False, "linear"),
                                         ("#000000", YB_BLK2_X, YB_BLK2_V, 1, False, "linear"),
                                         (YELLOW, YB_YEL_X, YB_YEL_V, 1, True, "linear")])

# ------------------------------------------------------------------ annotation tracks (main axis: y in page rows)
shapes = []


def line(x0, y0, x1, y1, color="black", width=1):
    shapes.append(dict(type="line", xref="x", yref="y", x0=POS0 + x0, x1=POS0 + x1, y0=y0, y1=y1,
                       line=dict(color=color, width=width)))


def rect(x0, x1, y0, y1, color, width=1, fill=None):
    shapes.append(dict(type="rect", xref="x", yref="y", x0=POS0 + x0, x1=POS0 + x1, y0=y0, y1=y1,
                       line=dict(color=color, width=width), fillcolor=fill or "rgba(0,0,0,0)"))


def text(x, y, s, anchor="center"):
    shift = {"left": -3, "right": 2}.get(anchor, 0)
    fig.add_annotation(x=POS0 + x, y=y, xref="x", yref="y", text=s, showarrow=False,
                       xanchor=anchor, yanchor="middle", xshift=shift, font=FONT)


# ruler
RULER_Y = 38.3
line(RULER_FROM, RULER_Y, RULER_TO, RULER_Y)
for t in [RULER_FROM] + list(range(100, RULER_TO + 1, 100)):
    line(t, RULER_Y - 2.4, t, RULER_Y + 2.4)
text(RULER_FROM, 20.7, RULER_LABELS[0], "left")
text(RULER_TO, 20.7, RULER_LABELS[1], "right")

# terminators
TERM_STYLE = [("#FF6347", 2, 57.3), ("#FF6347", 2, 57.3), ("#B22222", 1.3, 59.0)]
for name, s, e, (col, wd, ly) in zip(TERM_NAMES, TERM_START, TERM_END, TERM_STYLE):
    rect(s, e, 38.3, 50.7 if wd > 1.5 else 52.3, col, wd)
    text((s + e) / 2, ly, name)

# genes
HEAD = 30
ROW_Y = {"+": 61.7, "-": 82.7}
LABEL_Y = [76, 106, 118.3, 97.3, 106, 118.3, 97.3]
for name, s, e, strand, ly in zip(GENE_NAMES, GENE_START, GENE_END, GENE_STRAND, LABEL_Y):
    yc = ROW_Y[strand]
    bh, hh = 6.6, 10.6
    if strand == "+":
        hb = e - HEAD
        pts = [(s, yc - bh), (hb, yc - bh), (hb, yc - hh), (e, yc), (hb, yc + hh), (hb, yc + bh), (s, yc + bh)]
    else:
        hb = s + HEAD
        pts = [(s, yc), (hb, yc - hh), (hb, yc - bh), (e, yc - bh), (e, yc + bh), (hb, yc + bh), (hb, yc + hh)]
        line(e, yc - hh, e, yc + hh)
    path = "M " + " L ".join(f"{POS0 + px},{py}" for px, py in pts) + " Z"
    shapes.append(dict(type="path", xref="x", yref="y", path=path,
                       line=dict(color="black", width=1), fillcolor="white"))
    text((s + e) / 2, ly, name)

# operon / transcript boxes
for s, e in BLUE_BOX:
    rect(s, e, 207.3, 217.3, "#0000FF", 1.3)
for s, e in RED_BOXES:
    rect(s, e, 258.3, 268.7, "#FF0000", 1.5)
for name, s, e in zip(NAVY_NAMES, NAVY_START, NAVY_END):
    rect(s, e, 258.3, 268.7, NAVY, 1, NAVY)
    text((s + e) / 2, 276.5, name)
text((TNP_START + TNP_END) / 2, 276.5, TNP_NAME)

# feature track
line(RULER_FROM - 1, 366, RULER_TO, 366)
rect(FEAT_START[0] - 17, FEAT_START[0], 365.7, 370.7, "#FF0000", 1)
line(FEAT_START[1], 366, FEAT_START[1], 379.3, "#FF0000", 1.2)
for name, s, e in zip(FEAT_NAMES, FEAT_START, FEAT_END):
    rect(s, e, 372, 379.3, "#FF0000", 1, "#FF0000")
    text(e, 376, name, "left")
line(PROMOTER_START, 397.3, PROMOTER_END, 397.3, "#FF0000", 1.3)
line(PROMOTER_END, 366, PROMOTER_END, 389.3, "#FF0000", 1.3)
steps = 5
sw = (PROMOTER_END - PROMOTER_RAMP) / steps
pts = [(PROMOTER_RAMP, 389.3)]
for i in range(steps):
    h = 389.3 - 1.4 * (i + 1)
    pts += [(PROMOTER_RAMP + sw * i, h), (PROMOTER_RAMP + sw * (i + 1), h)]
pts += [(PROMOTER_END, 389.3)]
shapes.append(dict(type="path", xref="x", yref="y",
                   path="M " + " L ".join(f"{POS0 + a},{b}" for a, b in pts) + " Z",
                   line=dict(color="#FF0000", width=1), fillcolor="#FF0000"))
text(PROMOTER_RAMP - 5, 383.3, PROMOTER_NAME, "right")

# condition bars
for (s, e), y0, y1, col, sign, ty in [
        (GREEN_PLUS, 773, 783.5, "#008F00", "+", 766),
        (GREEN_MINUS, 824, 835.5, "#008F00", "-", 841),
        (BLUE_PLUS, 1030, 1041, "#0026C8", "+", 1023),
        (RED_PLUS, 1287.5, 1298, "#BD0000", "+", 1280)]:
    rect(s, e, y0, y1, col, 0.5, col)
    text((s + e) / 2, ty, sign)

layout_axes["yaxis"] = dict(domain=[0, 1], range=[H, 0], visible=False, fixedrange=True)
fig.update_layout(
    width=W, height=H, margin=dict(l=0, r=0, t=0, b=0, pad=0),
    paper_bgcolor="white", plot_bgcolor="rgba(0,0,0,0)",
    xaxis=dict(range=[X_LEFT, X_RIGHT], visible=False, fixedrange=True, domain=[0, 1]),
    shapes=shapes, showlegend=False, **layout_axes)

CRISP = ("function crisp(){document.querySelectorAll('.scatterlayer path, .layer-above path')"
         ".forEach(function(p){p.setAttribute('shape-rendering','crispEdges');});}"
         "crisp();setTimeout(crisp,50);setTimeout(crisp,300);")
fig.write_html("out.html", config={"displayModeBar": False},
               post_script="document.body.style.margin='0px';document.body.style.overflow='hidden';" + CRISP)
